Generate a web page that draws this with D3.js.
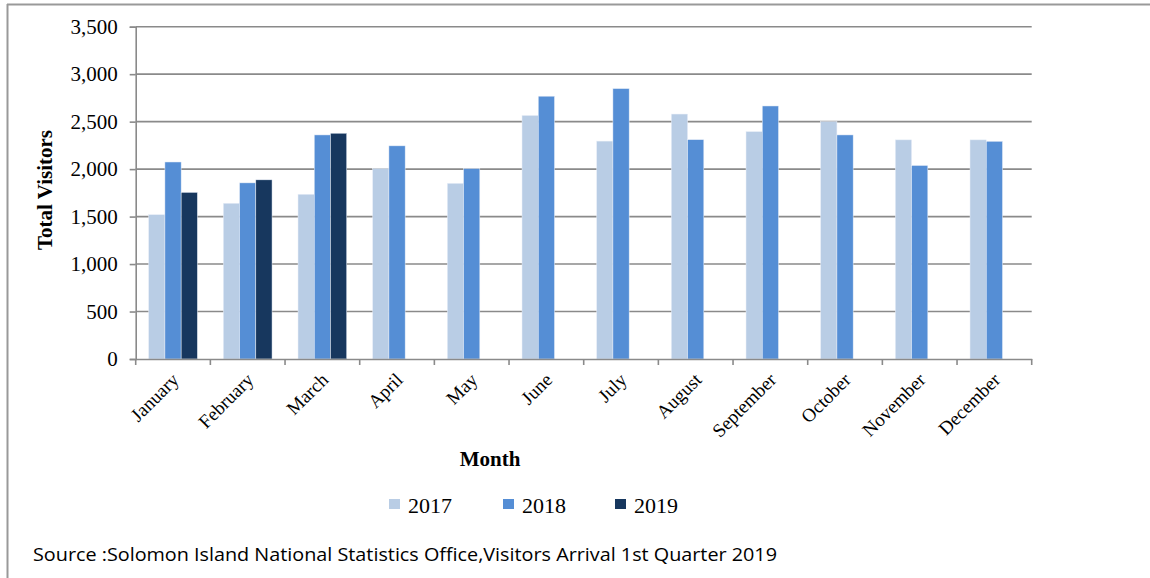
<!DOCTYPE html>
<html>
<head>
<meta charset="utf-8">
<script src="https://cdn.jsdelivr.net/npm/d3@7"></script>
<style>
  body { margin: 0; background: #fff; }
  svg { display: block; }
  .tick text { font-family: "Liberation Serif", "Times New Roman", serif; fill: #000; }
</style>
</head>
<body>
<div id="chart"></div>
<script>
// chart data
const months = ["January", "February", "March", "April", "May", "June",
  "July", "August", "September", "October", "November", "December"];
const years = ["2017", "2018", "2019"];
const v2017 = [1520, 1640, 1735, 2005, 1850, 2565, 2295, 2580, 2395, 2500, 2308, 2308];
const v2018 = [2075, 1855, 2360, 2245, 2005, 2768, 2848, 2310, 2665, 2360, 2038, 2293];
const v2019 = [1755, 1887, 2378];
const yTicks = [0, 500, 1000, 1500, 2000, 2500, 3000, 3500];
const colors = ["#B9CDE5", "#558ED5", "#17375E"];

const W = 1150, H = 578;
const plot = { left: 135.7, right: 1031.7, top: 26.7, bottom: 359 };

const svg = d3.select("#chart").append("svg")
  .attr("width", W).attr("height", H);

// outer frame (only top and left edges are visible)
svg.append("line").attr("x1", 7).attr("x2", W).attr("y1", 4.5).attr("y2", 4.5)
  .attr("stroke", "#999").attr("stroke-width", 2);
svg.append("line").attr("x1", 7.5).attr("x2", 7.5).attr("y1", 4).attr("y2", H)
  .attr("stroke", "#999").attr("stroke-width", 2);

const x = d3.scaleBand().domain(months).range([plot.left, plot.right]).padding(0);
const xs = d3.scaleBand().domain(years).range([0, x.bandwidth()])
  .paddingInner(0).paddingOuter(0.8);
const y = d3.scaleLinear().domain([0, 3500]).range([plot.bottom, plot.top]);

// gridlines
svg.append("g").selectAll("line")
  .data(yTicks.slice(1))
  .join("line")
  .attr("x1", plot.left).attr("x2", plot.right)
  .attr("y1", d => y(d)).attr("y2", d => y(d))
  .attr("stroke", "#8a8a8a").attr("stroke-width", 1.6);

// y axis
const yAxis = svg.append("g")
  .attr("transform", `translate(${plot.left},0)`)
  .call(d3.axisLeft(y).tickValues(yTicks).tickSize(6).tickPadding(12)
    .tickFormat(d3.format(",")));
yAxis.select(".domain").attr("stroke", "#8a8a8a").attr("stroke-width", 1.6);
yAxis.selectAll(".tick line").attr("stroke", "#8a8a8a").attr("stroke-width", 1.6);
yAxis.selectAll(".tick text").style("font-size", "21px");

// bars
const series = [v2017, v2018, v2019];
series.forEach((vals, si) => {
  svg.append("g").selectAll("rect")
    .data(vals.map((v, i) => ({ m: months[i], v: v })))
    .join("rect")
    .attr("x", d => x(d.m) + xs(years[si]))
    .attr("width", xs.bandwidth())
    .attr("y", d => y(d.v))
    .attr("height", d => plot.bottom - y(d.v))
    .attr("fill", colors[si])
    .attr("stroke", "#e8eef7").attr("stroke-width", 0.5);
});

// x axis
const xAxis = svg.append("g")
  .attr("transform", `translate(0,${plot.bottom})`)
  .call(d3.axisBottom(x).tickSize(0).tickPadding(0));
xAxis.select(".domain").attr("stroke", "#8a8a8a").attr("stroke-width", 1.6);
// tick marks at category boundaries
svg.append("g").selectAll("line")
  .data(months.map(m => x(m)).concat([plot.right]))
  .join("line")
  .attr("x1", d => d).attr("x2", d => d)
  .attr("y1", plot.bottom).attr("y2", plot.bottom + 6)
  .attr("stroke", "#8a8a8a").attr("stroke-width", 1.6);
xAxis.selectAll(".tick text")
  .style("font-size", "19px")
  .attr("text-anchor", "end")
  .attr("dy", 0)
  .attr("transform", "translate(7,22) rotate(-45)");

// axis titles
svg.append("text")
  .attr("transform", "translate(52,190) rotate(-90)")
  .attr("text-anchor", "middle")
  .style("font-family", "Liberation Serif, serif")
  .style("font-weight", "bold").style("font-size", "21px")
  .text("Total Visitors");

svg.append("text")
  .attr("x", 490).attr("y", 466)
  .attr("text-anchor", "middle")
  .style("font-family", "Liberation Serif, serif")
  .style("font-weight", "bold").style("font-size", "21px")
  .text("Month");

// legend
const legendX = [389, 503, 615];
const legend = svg.append("g").selectAll("g")
  .data(years)
  .join("g")
  .attr("transform", (d, i) => `translate(${legendX[i]},499)`);
legend.append("rect")
  .attr("width", 11).attr("height", 10)
  .attr("fill", (d, i) => colors[i]);
legend.append("text")
  .attr("x", 19).attr("y", 14)
  .style("font-family", "Liberation Serif, serif")
  .style("font-size", "22px")
  .text(d => d);

// source note
svg.append("text")
  .attr("x", 33).attr("y", 561)
  .attr("textLength", 744)
  .attr("lengthAdjust", "spacingAndGlyphs")
  .style("font-family", "Open Sans, sans-serif")
  .style("font-size", "17.5px")
  .text("Source :Solomon Island National Statistics Office,Visitors Arrival 1st Quarter 2019");
</script>
</body>
</html>
